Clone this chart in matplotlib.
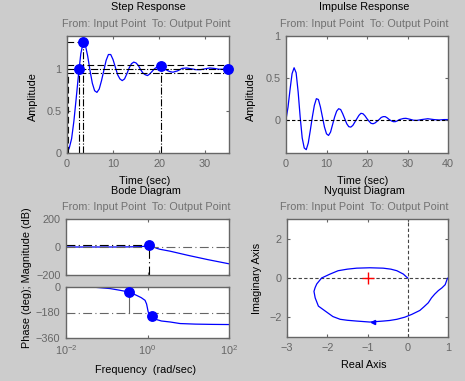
import matplotlib.pyplot as plt
import numpy as np

plt.rcParams['font.family'] = ['Liberation Sans', 'DejaVu Sans']
plt.rcParams['mathtext.fontset'] = 'custom'
plt.rcParams['mathtext.rm'] = 'Liberation Sans'
plt.rcParams['mathtext.it'] = 'Liberation Sans'

# step response
step_t = [0, 0.5, 1.0, 1.5, 2.0, 2.5, 3.0, 3.5, 4.0, 4.5, 5.0, 5.5, 6.0, 6.5, 7.0,
          7.5, 8.0, 8.5, 9.0, 9.5, 10.0, 10.5, 11.0, 11.5, 12.0, 12.5, 13.0, 13.5,
          14.0, 14.5, 15.0, 15.5, 16.0, 16.5, 17.0, 17.5, 18.0, 18.5, 19.0, 19.5,
          20.0, 20.5, 21, 21.5, 22, 22.5, 23, 24, 25, 26, 27, 28, 29, 30, 31, 32,
          33, 34, 35]
step_y = [0, 0.06, 0.17, 0.38, 0.65, 0.93, 1.18, 1.31, 1.28, 1.15, 0.98, 0.83,
          0.74, 0.72, 0.76, 0.86, 0.98, 1.10, 1.17, 1.17, 1.11, 1.02, 0.93, 0.88,
          0.86, 0.88, 0.94, 1.01, 1.06, 1.08, 1.07, 1.04, 0.99, 0.95, 0.93, 0.92,
          0.94, 0.97, 1.00, 1.02, 1.03, 1.03, 1.01, 0.99, 0.975, 0.965, 0.96,
          0.975, 1.005, 1.01, 1.0, 0.99, 0.99, 1.0, 1.01, 1.005, 0.995, 0.995, 1.0]
rise_start, rise_end = 0.15, 2.6
peak_time, peak_amp = 3.55, 1.32
settle_time, settle_amp = 20.4, 1.03
final_time, final_amp = 35.0, 1.0
settle_band = [1.045, 0.955]

# impulse response
imp_t = [0, 0.5, 1.0, 1.5, 2.0, 2.5, 3.0, 3.5, 4.0, 4.5, 5.0, 5.5, 6.0, 6.5, 7.0,
         7.5, 8.0, 8.5, 9.0, 9.5, 10, 10.5, 11, 11.5, 12, 12.5, 13, 13.5, 14,
         14.5, 15, 15.5, 16, 16.5, 17, 17.5, 18, 18.5, 19, 19.5, 20, 20.5, 21,
         21.5, 22, 22.5, 23, 23.5, 24, 24.5, 25, 25.5, 26, 26.5, 27, 27.5, 28, 29,
         29.6, 30.5, 31.5, 32.3, 33.5, 35, 36.5, 37.8, 39, 40]
imp_y = [0, 0.15, 0.36, 0.55, 0.62, 0.56, 0.33, 0.03, -0.22, -0.34, -0.36, -0.28,
         -0.13, 0.03, 0.17, 0.25, 0.24, 0.15, 0.03, -0.09, -0.17, -0.19, -0.15,
         -0.06, 0.03, 0.10, 0.13, 0.12, 0.07, 0.01, -0.05, -0.085, -0.09, -0.07,
         -0.03, 0.01, 0.05, 0.075, 0.07, 0.045, 0.01, -0.02, -0.045, -0.05, -0.04,
         -0.02, 0.0, 0.025, 0.035, 0.035, 0.02, 0.0, -0.015, -0.025, -0.025,
         -0.015, 0.0, 0.013, 0.015, 0.005, -0.008, -0.01, 0.0, 0.01, 0.0, -0.005,
         0.0, 0]

# bode
mag_w = [0.01, 0.03, 0.1, 0.2, 0.3, 0.5, 0.6, 0.7, 0.85, 1.0, 1.1, 1.3, 1.67, 2.0,
         3.6, 10, 30, 100]
mag_db = [0, 0, 0, 0, 0.5, 1.5, 2, 3, 5, 9, 13, 5, -9, -16, -30, -60, -90, -120]
mag_peak_w, mag_peak_db = 1.1, 13
ph_w = [0.01, 0.03, 0.047, 0.12, 0.2, 0.35, 0.54, 0.7, 0.87, 0.95, 1.04, 1.15,
        1.31, 1.67, 2.2, 3.6, 6.3, 15, 40, 100]
ph_deg = [0, 0, -1, -11, -22, -35, -59, -75, -94, -120, -176, -195, -207, -230,
          -240, -247, -258, -262, -264, -265]
pm_w, pm_deg = 0.35, -35
gm_w, gm_deg = 1.31, -207

# nyquist
nyq_re = [1.0, 0.98, 0.93, 0.85, 0.76, 0.67, 0.59, 0.51, 0.40, 0.30, 0.10, -0.07,
          -0.27, -0.45, -0.61, -0.94, -1.27, -1.50, -1.68, -1.86, -2.01, -2.22,
          -2.30, -2.33, -2.30, -2.26, -2.14, -1.93, -1.73, -1.50, -1.27, -0.94,
          -0.61, -0.42, -0.27, -0.11, -0.03, 0.0]
nyq_im = [0.0, -0.05, -0.34, -0.50, -0.64, -0.82, -1.01, -1.26, -1.47, -1.65,
          -1.85, -1.99, -2.1, -2.16, -2.19, -2.24, -2.19, -2.15, -2.1, -1.96,
          -1.74, -1.43, -1.01, -0.68, -0.48, -0.30, 0.0, 0.2, 0.37, 0.45, 0.5,
          0.52, 0.5, 0.45, 0.37, 0.2, 0.05, 0.0]

W, H = 465, 381
bg = '#cccccc'
gray = '#666666'
blue = '#0000ff'
fs = 7.8

fig = plt.figure(figsize=(W / 100, H / 100), dpi=100, facecolor=bg)


def make_ax(x0, y0, x1, y1):
    ax = fig.add_axes([x0 / W, 1 - y1 / H, (x1 - x0) / W, (y1 - y0) / H])
    ax.set_facecolor('white')
    for s in ax.spines.values():
        s.set_color(gray)
        s.set_linewidth(1.0)
    ax.tick_params(direction='in', length=2.5, width=0.8, color=gray,
                   labelcolor=gray, labelsize=fs, top=True, right=True, pad=4)
    ax.tick_params(which='minor', length=0)
    return ax


def pix_text(x, y, s, color='black', rot=0):
    fig.text(x / W, 1 - y / H, s, ha='center', va='center', color=color,
             fontsize=fs, rotation=rot)


sub = 'From: Input Point  To: Output Point'
sub_c = '#707070'
dashdot = (0, (8, 3, 1, 3))

# ---- step response
ax = make_ax(67, 36, 229, 153)
ax.plot(step_t, step_y, color=blue, lw=0.9)
ax.set_xlim(0, 35.2)
ax.set_ylim(0, 1.39)
ax.set_xticks([0, 10, 20, 30])
ax.set_yticks([0, 0.5, 1])
ax.set_yticklabels(['0', '0.5', '1'])
ax.axhline(settle_band[0], color='k', lw=0.8, ls=(0, (6, 3)))
ax.axhline(final_amp, color='k', lw=0.8, ls='-.')
ax.axhline(settle_band[1], color='k', lw=0.8, ls=(0, (6, 2, 1, 2)))
ax.plot([0, peak_time], [peak_amp, peak_amp], color='k', lw=0.8, ls=(0, (6, 3)))
ax.plot([rise_start, rise_start], [0, 0.95], color='k', lw=0.8, ls=(0, (6, 3)))
ax.plot([rise_end, rise_end], [0, final_amp], color='k', lw=0.8, ls='-.')
ax.plot([peak_time, peak_time], [0, peak_amp], color='k', lw=0.8, ls='-.')
ax.plot([settle_time, settle_time], [0, settle_amp], color='k', lw=0.8, ls='-.')
ax.plot([rise_end, peak_time, settle_time, final_time],
        [final_amp, peak_amp, settle_amp, final_amp], 'o', color=blue, ms=6.8,
        clip_on=False, zorder=5)
pix_text(148, 6.5, 'Step Response')
pix_text(146, 24, sub, sub_c)
pix_text(33, 97, 'Amplitude', rot=90)
pix_text(145, 181, 'Time (sec)')

# ---- impulse response
ax = make_ax(286, 36, 448, 153)
ax.plot(imp_t, imp_y, color=blue, lw=0.9)
ax.axhline(0, color='k', lw=0.8, ls=(0, (3, 2)))
ax.set_xlim(0, 40)
ax.set_ylim(-0.4, 1.0)
ax.set_xticks([0, 10, 20, 30, 40])
ax.set_yticks([0, 0.5, 1])
ax.set_yticklabels(['0', '0.5', '1'])
pix_text(364, 6.5, 'Impulse Response')
pix_text(364, 24, sub, sub_c)
pix_text(251, 97, 'Amplitude', rot=90)
pix_text(363, 181, 'Time (sec)')

# ---- bode magnitude
ax = make_ax(66, 219, 229, 275)
ax.semilogx(mag_w, mag_db, color=blue, lw=0.9)
ax.axhline(0, color=gray, lw=0.8, ls=dashdot)
ax.plot([0.01, mag_peak_w], [mag_peak_db, mag_peak_db], color='k', lw=0.8,
        ls=dashdot)
ax.plot([mag_peak_w, mag_peak_w], [-200, mag_peak_db], color='k', lw=0.8,
        ls=dashdot)
ax.plot([mag_peak_w], [mag_peak_db], 'o', color=blue, ms=6.8, zorder=5)
ax.set_xlim(0.01, 100)
ax.set_ylim(-200, 200)
ax.set_yticks([-200, 0, 200])
ax.set_xticks([0.01, 1, 100])
ax.set_xticklabels([])

# ---- bode phase
ax = make_ax(66, 287, 229, 338)
ax.semilogx(ph_w, ph_deg, color=blue, lw=0.9)
ax.axhline(-180, color=gray, lw=0.8, ls=dashdot)
ax.plot([pm_w, pm_w], [-180, pm_deg], color=gray, lw=0.8)
ax.plot([pm_w, gm_w], [pm_deg, gm_deg], 'o', color=blue, ms=6.8, zorder=5)
ax.set_xlim(0.01, 100)
ax.set_ylim(-360, 0)
ax.set_yticks([-360, -180, 0])
ax.set_xticks([0.01, 1, 100])
ax.set_xticklabels(['$10^{-2}$', '$10^{0}$', '$10^{2}$'])
pix_text(146, 191, 'Bode Diagram')
pix_text(146, 207, sub, sub_c)
pix_text(27, 278, 'Phase (deg); Magnitude (dB)', rot=90)
pix_text(145, 370, 'Frequency  (rad/sec)')

# ---- nyquist
ax = make_ax(287, 219, 448, 337)
ax.axhline(0, color='#444444', lw=0.8, ls=(0, (3, 2)))
ax.axvline(0, color='#444444', lw=0.8, ls=(0, (3, 2)))
ax.plot(nyq_re, nyq_im, color=blue, lw=0.9)
ax.plot([-0.87], [-2.24], marker='<', color=blue, ms=3)
ax.plot([-1], [0], '+', color='red', ms=9, mew=1.0)
ax.set_xlim(-3, 1)
ax.set_ylim(-3, 3)
ax.set_xticks([-3, -2, -1, 0, 1])
ax.set_yticks([-2, 0, 2])
pix_text(364, 191, 'Nyquist Diagram')
pix_text(364, 207, sub, sub_c)
pix_text(257, 278, 'Imaginary Axis', rot=90)
pix_text(364, 365, 'Real Axis')

fig.savefig('out.png', dpi=100, facecolor=bg)
